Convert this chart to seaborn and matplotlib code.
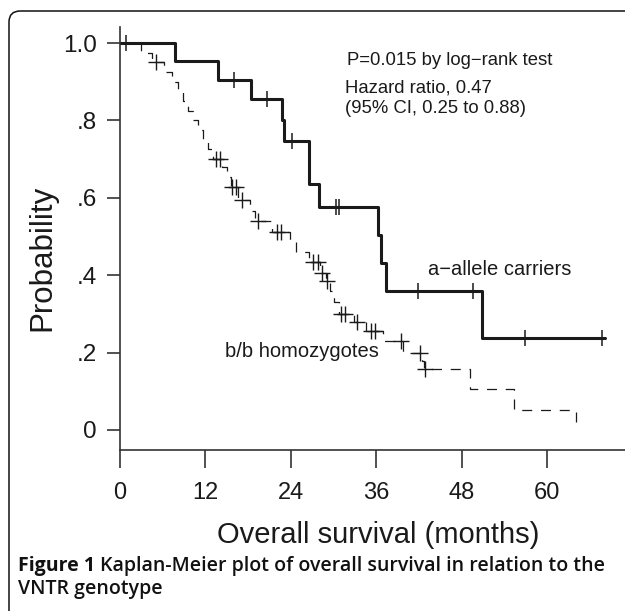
import numpy as np
import pandas as pd
import matplotlib
matplotlib.use("Agg")
import matplotlib.pyplot as plt
import seaborn as sns
from matplotlib.patches import FancyBboxPatch
from matplotlib import font_manager

# ---------------- data ----------------
# a-allele carriers: event times (months) and survival after each step
a_time = [0.0, 7.7, 13.8, 18.4, 22.7, 23.0, 26.6, 27.9, 36.2, 36.6, 37.4, 50.8, 68.1]
a_surv = [1.0, 0.953, 0.905, 0.855, 0.80, 0.748, 0.635, 0.575, 0.504, 0.432, 0.359, 0.239, 0.239]
a_cens = [0.9, 16.0, 20.6, 24.1, 30.3, 30.8, 41.8, 49.6, 56.9, 67.7]

# b/b homozygotes
b_time = [0.0, 3.0, 4.5, 6.2, 7.3, 8.1, 8.8, 9.6, 10.2, 10.9, 11.6, 12.4, 13.1,
          14.3, 15.0, 15.6, 16.6, 18.2, 19.0, 21.3, 23.9, 24.7, 26.6, 28.1, 28.9,
          29.5, 30.1, 30.7, 32.8, 34.5, 37.0, 39.7, 42.4, 42.7, 49.2, 55.4, 64.1]
b_surv = [1.0, 0.975, 0.95, 0.925, 0.90, 0.875, 0.85, 0.825, 0.80, 0.775, 0.75, 0.725, 0.70,
          0.68, 0.655, 0.628, 0.595, 0.567, 0.54, 0.512, 0.487, 0.46, 0.435, 0.405, 0.385,
          0.36, 0.33, 0.30, 0.28, 0.255, 0.23, 0.20, 0.178, 0.157, 0.105, 0.052, 0.0]
b_cens = [5.0, 13.5, 14.0, 15.8, 16.3, 17.2, 19.4, 22.0, 22.6, 27.1, 27.8, 28.4, 29.1,
          31.0, 31.6, 33.3, 35.2, 35.8, 39.4, 42.2, 42.9]

x_ticks = [0, 12, 24, 36, 48, 60]
x_ticklabels = ["0", "12", "24", "36", "48", "60"]
y_ticks = [0, 0.2, 0.4, 0.6, 0.8, 1.0]
y_ticklabels = ["0", ".2", ".4", ".6", ".8", "1.0"]

label_a = "a\u2212allele carriers"
label_b = "b/b homozygotes"
stats_lines = ["P=0.015 by log\u2212rank test", "Hazard ratio, 0.47", "(95% CI, 0.25 to 0.88)"]
x_title = "Overall survival (months)"
y_title = "Probability"
cap_bold = "Figure 1"
cap_rest1 = "Kaplan-Meier plot of overall survival in relation to the"
cap_rest2 = "VNTR genotype"

# ---------------- style ----------------
sns.set_theme(style="white")
plt.rcParams["font.family"] = ["Liberation Sans", "DejaVu Sans"]
avail = {f.name for f in font_manager.fontManager.ttflist}
cap_font = "Open Sans" if "Open Sans" in avail else "DejaVu Sans"
ink = "#1a1a1a"

W, H = 625, 611
fig = plt.figure(figsize=(W / 100, H / 100), dpi=100)


def px_rect(x0, y0, x1, y1):
    return [x0 / W, 1 - y1 / H, (x1 - x0) / W, (y1 - y0) / H]


# outer frame with rounded top-left corner
frame = FancyBboxPatch((9 / W, -20 / H), 700 / W, (H - 11 + 20) / H,
                       boxstyle="round,pad=0,rounding_size=0.018",
                       transform=fig.transFigure, fill=False, lw=1.1,
                       edgecolor="#111111", clip_on=False)
fig.patches.append(frame)

ax = fig.add_axes(px_rect(120, 27, 625, 450))
ax.set_xlim(0, 505 / 7.12)
ax.set_ylim(-20 / 387, 403 / 387)


def step_value(times, surv, t):
    i = np.searchsorted(times, t, side="right") - 1
    return np.asarray(surv)[i]


df_a = pd.DataFrame({"time": a_time, "surv": a_surv})
df_b = pd.DataFrame({"time": b_time, "surv": b_surv})
cen_a = pd.DataFrame({"time": a_cens, "surv": step_value(a_time, a_surv, np.array(a_cens))})
cen_b = pd.DataFrame({"time": b_cens, "surv": step_value(b_time, b_surv, np.array(b_cens))})

sns.lineplot(data=df_b, x="time", y="surv", ax=ax, estimator=None, sort=False,
             drawstyle="steps-post", color=ink, lw=0.9)
ax.lines[-1].set_dashes((8, 7))
sns.lineplot(data=df_a, x="time", y="surv", ax=ax, estimator=None, sort=False,
             drawstyle="steps-post", color=ink, lw=2.2)

sns.scatterplot(data=cen_b, x="time", y="surv", ax=ax, marker="+", s=130,
                color=ink, linewidth=1.0, zorder=5)
sns.scatterplot(data=cen_a, x="time", y="surv", ax=ax, marker="|", s=130,
                color=ink, linewidth=1.1, zorder=5)

# axes styling
for side in ["top", "right"]:
    ax.spines[side].set_visible(False)
for side in ["left", "bottom"]:
    ax.spines[side].set_color("#333333")
    ax.spines[side].set_linewidth(1.2)

ax.set_xticks(x_ticks)
ax.set_xticklabels(x_ticklabels, fontsize=17, color=ink)
ax.set_yticks(y_ticks)
ax.set_yticklabels(y_ticklabels, fontsize=17.5, color=ink)
ax.tick_params(axis="x", direction="out", length=13, width=1.2, color="#333333", pad=10, bottom=True)
ax.tick_params(axis="y", direction="out", length=9.5, width=1.2, color="#333333", pad=7, left=True)

ax.set_xlabel(x_title, fontsize=21, color=ink)
ax.xaxis.set_label_coords((378 - 120) / 505, -(521 - 450) / 423)
ax.set_ylabel(y_title, fontsize=22.5, color=ink)
ax.yaxis.set_label_coords(-(120 - 57) / 505, 1 - (258 - 27) / 423)

# annotations (data coordinates)
ax.text(31.9, 0.956, stats_lines[0], fontsize=13.3, color=ink, va="center", ha="left")
ax.text(31.6, 0.884, stats_lines[1], fontsize=13.3, color=ink, va="center", ha="left")
ax.text(31.6, 0.832, stats_lines[2], fontsize=13.3, color=ink, va="center", ha="left")
ax.text(43.3, 0.416, label_a, fontsize=14.5, color=ink, va="center", ha="left")
ax.text(14.7, 0.202, label_b, fontsize=14.5, color=ink, va="center", ha="left")

# caption
r = fig.canvas.get_renderer()
cap_size = 14.0
t1 = fig.text(18 / W, 1 - 571 / H, cap_bold, family=cap_font, fontweight="bold",
              fontsize=cap_size, color="#111111", va="baseline", ha="left")
bb = t1.get_window_extent(r)
fig.text((bb.x1 + 5) / W, 1 - 571 / H, cap_rest1, family=cap_font, fontweight="semibold",
         fontsize=cap_size, color="#111111", va="baseline", ha="left")
fig.text(18 / W, 1 - 594 / H, cap_rest2, family=cap_font, fontweight="semibold",
         fontsize=cap_size, color="#111111", va="baseline", ha="left")

fig.savefig("out.png", dpi=100)
